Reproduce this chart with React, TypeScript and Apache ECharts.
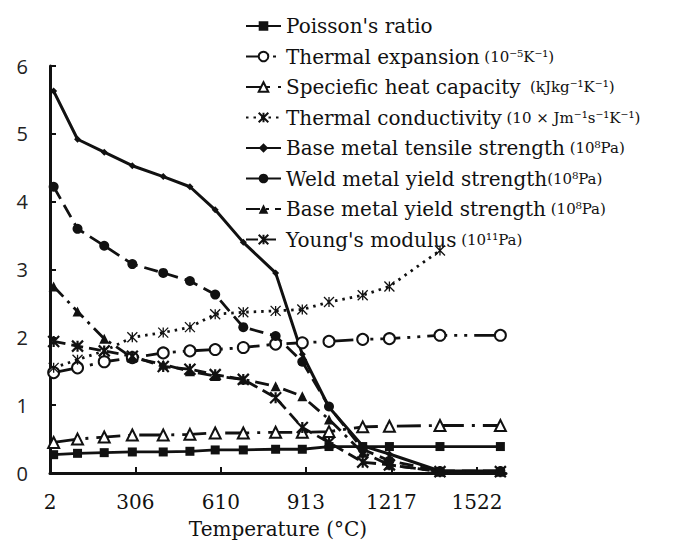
import React, { useEffect, useRef } from "react";
import * as echarts from "echarts";

// Temperatures (°C)
const temps = [15, 100, 195, 295, 405, 500, 590, 690, 805, 900, 995, 1115, 1210, 1390, 1605];
const xTicks = [2, 306, 610, 913, 1217, 1522];

const poisson = [0.27, 0.29, 0.3, 0.31, 0.31, 0.32, 0.34, 0.34, 0.35, 0.35, 0.39, 0.39, 0.39, 0.39, 0.39];
const expansion = [1.48, 1.55, 1.64, 1.7, 1.77, 1.8, 1.82, 1.85, 1.9, 1.92, 1.94, 1.97, 1.98, 2.03, 2.03];
const heatCapacity = [0.45, 0.5, 0.53, 0.56, 0.56, 0.57, 0.59, 0.59, 0.6, 0.6, 0.61, 0.68, 0.69, 0.7, 0.7];
const conductivity = [1.55, 1.67, 1.8, 2.0, 2.07, 2.15, 2.34, 2.37, 2.39, 2.41, 2.52, 2.62, 2.75, 3.28, null];
const tensile = [5.63, 4.92, 4.73, 4.53, 4.37, 4.22, 3.88, 3.4, 2.95, 1.75, 0.97, 0.4, 0.28, 0.03, 0.03];
const weldYield = [4.22, 3.6, 3.35, 3.08, 2.95, 2.83, 2.63, 2.15, 2.02, 1.64, 0.98, 0.35, 0.18, 0.03, 0.03];
const baseYield = [2.75, 2.38, 1.98, 1.7, 1.6, 1.5, 1.43, 1.38, 1.28, 1.13, 0.79, 0.3, 0.12, 0.02, 0.02];
const youngs = [1.94, 1.87, 1.8, 1.72, 1.57, 1.53, 1.45, 1.38, 1.11, 0.67, 0.45, 0.16, 0.12, 0.02, 0.02];

const units: Record<string, string> = {
  "Thermal expansion": " (10⁻⁵K⁻¹)",
  "Speciefic heat capacity": "  (kJkg⁻¹K⁻¹)",
  "Thermal conductivity": " (10 × Jm⁻¹s⁻¹K⁻¹)",
  "Base metal tensile strength": " (10⁸Pa)",
  "Weld metal yield strength": "(10⁸Pa)",
  "Base metal yield strength": " (10⁸Pa)",
  "Young's modulus": " (10¹¹Pa)",
};

const STAR = "path://M0,-5L0,5M-5,-5L5,5M-5,5L5,-5";
const INK = "#111";

function pairs(vals: (number | null)[]) {
  const out: [number, number][] = [];
  temps.forEach((t, i) => {
    const v = vals[i];
    if (v !== null && v !== undefined) out.push([t, v]);
  });
  return out;
}

function line(
  name: string,
  vals: (number | null)[],
  dash: any,
  symbol: string,
  symbolSize: number,
  itemStyle: any,
  width = 2.8
) {
  return {
    type: "line",
    name,
    data: pairs(vals),
    symbol,
    symbolSize,
    showAllSymbol: true,
    lineStyle: { color: INK, width, type: dash },
    itemStyle,
    emphasis: { disabled: true },
  };
}

export default function App() {
  const ref = useRef<HTMLDivElement>(null);
  useEffect(() => {
    const chart = echarts.init(ref.current!, null, { renderer: "svg" });
    const filled = { color: INK, borderWidth: 0 };
    const open = { color: INK, borderColor: INK, borderWidth: 1.5 };
    const starThin = { color: INK, borderColor: INK, borderWidth: 1.3 };
    const starBold = { color: INK, borderColor: INK, borderWidth: 2.2 };
    chart.setOption({
      animation: false,
      grid: { left: 50, right: 172, top: 66, bottom: 71 },
      legend: {
        orient: "vertical",
        left: 240,
        top: 11,
        itemWidth: 35,
        itemHeight: 12,
        itemGap: 10.5,
        selectedMode: false,
        formatter: (name: string) =>
          units[name] ? `{n|${name}}{u|${units[name]}}` : `{n|${name}}`,
        textStyle: {
          rich: {
            n: { fontFamily: "DejaVu Serif", fontSize: 20, color: INK, lineHeight: 22 },
            u: { fontFamily: "DejaVu Serif", fontSize: 15, color: INK, lineHeight: 22 },
          },
        },
      },
      xAxis: {
        type: "value",
        min: 2,
        max: 1625,
        name: "Temperature (°C)",
        nameLocation: "middle",
        nameGap: 46,
        nameTextStyle: { fontFamily: "DejaVu Serif", fontSize: 20, color: INK },
        axisLine: { show: true, lineStyle: { color: INK, width: 3 } },
        axisTick: { show: true, inside: true, length: 6, lineStyle: { color: INK, width: 2 }, customValues: xTicks },
        axisLabel: {
          customValues: xTicks,
          formatter: (v: number) => String(v),
          fontFamily: "DejaVu Serif",
          fontSize: 20,
          color: INK,
          margin: 19,
          showMinLabel: true,
          showMaxLabel: true,
        },
        splitLine: { show: false },
      },
      yAxis: {
        type: "value",
        min: 0,
        max: 6,
        interval: 1,
        axisLine: { show: true, lineStyle: { color: INK, width: 3 } },
        axisTick: { show: true, inside: true, length: 6, lineStyle: { color: INK, width: 2 } },
        axisLabel: { fontFamily: "Open Sans", fontSize: 20, color: "#222", margin: 22 },
        splitLine: { show: false },
      },
      series: [
        line("Poisson's ratio", poisson, "solid", "rect", 9, filled),
        line("Thermal expansion", expansion, [20, 7, 3, 7, 3, 7], "emptyCircle", 11, open),
        line("Speciefic heat capacity", heatCapacity, [24, 8, 3, 8], "emptyTriangle", 11, open),
        line("Thermal conductivity", conductivity, [2.5, 5], STAR, 10, starThin),
        line("Base metal tensile strength", tensile, "solid", "diamond", 7, filled, 3),
        line("Weld metal yield strength", weldYield, [14, 7], "circle", 10, filled),
        line("Base metal yield strength", baseYield, [14, 6, 3, 6], "triangle", 10, filled),
        line("Young's modulus", youngs, [12, 6], STAR, 11, starBold),
      ],
    });
    return () => chart.dispose();
  }, []);
  return (
    <div
      ref={ref}
      style={{ position: "fixed", left: 0, top: 0, width: 678, height: 544, background: "#fff" }}
    />
  );
}
